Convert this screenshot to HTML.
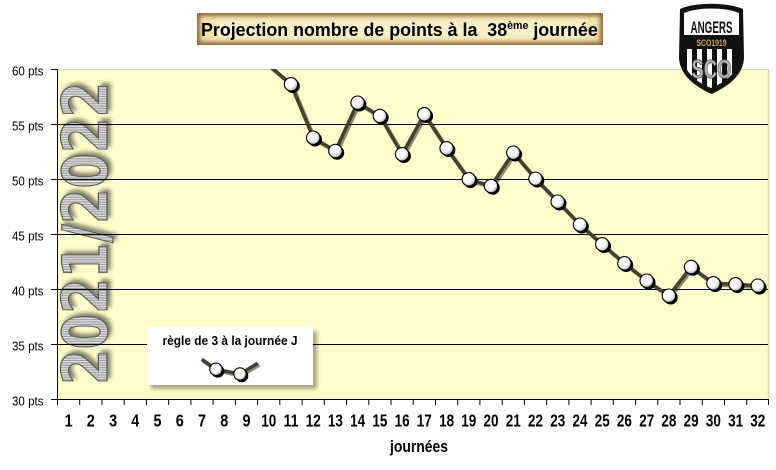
<!DOCTYPE html>
<html><head><meta charset="utf-8"><style>
html,body{margin:0;padding:0;background:#fff;}
svg{display:block;}
</style></head><body>
<svg width="776" height="470" viewBox="0 0 776 470" xmlns="http://www.w3.org/2000/svg" font-family="'Liberation Sans', Arial, sans-serif">
<defs>
  <clipPath id="plotclip"><rect x="57.5" y="69" width="711.5" height="330"/></clipPath>
  <radialGradient id="ball" cx="0.42" cy="0.4" r="0.6">
    <stop offset="0" stop-color="#ffffff"/>
    <stop offset="0.55" stop-color="#ffffff"/>
    <stop offset="1" stop-color="#b8b8b8"/>
  </radialGradient>
  <filter id="blur2" x="-20%" y="-50%" width="140%" height="200%"><feGaussianBlur stdDeviation="2.2"/></filter>
  <filter id="blur3" x="-20%" y="-30%" width="140%" height="160%"><feGaussianBlur stdDeviation="2.5"/></filter>
  <filter id="tshadow" x="-30%" y="-10%" width="160%" height="120%">
    <feGaussianBlur in="SourceAlpha" stdDeviation="2"/>
    <feOffset dx="3" dy="3" result="o"/>
    <feComponentTransfer><feFuncA type="linear" slope="0.5"/></feComponentTransfer>
    <feMerge><feMergeNode/><feMergeNode in="SourceGraphic"/></feMerge>
  </filter>
  <pattern id="stripes" patternUnits="userSpaceOnUse" width="2.4" height="3">
    <rect x="0" y="0" width="2.4" height="3" fill="#dedede"/>
    <rect x="0" y="0" width="1.1" height="3" fill="#9c9c9c"/>
  </pattern>
  <clipPath id="shieldlow"><path d="M684,49 L739,49 L739,58 C738,72 726,82 711,88 C696,82 684,72 684,58 Z"/></clipPath>
</defs>

<!-- Title box -->
<rect x="197" y="13" width="406" height="32" fill="#8a683a"/>
<rect x="200" y="16" width="400" height="26" fill="#f2e1ab" filter="url(#blur2)"/>
<rect x="215" y="20" width="370" height="18" fill="#f8eec8" filter="url(#blur3)"/>
<text x="201" y="36" font-size="18.5" font-weight="bold" fill="#000" transform="translate(201,0) scale(0.965,1) translate(-201,0)">Projection nombre de points à la&#160; 38<tspan dy="-7" font-size="11">ème</tspan><tspan dy="7">&#160;journée</tspan></text>

<!-- Plot area -->
<rect x="57.5" y="69" width="711.5" height="330" fill="#fefdcb"/>
<line x1="57.5" y1="69.5" x2="769" y2="69.5" stroke="#ddd3a8" stroke-width="1"/>
<line x1="768.5" y1="69" x2="768.5" y2="399" stroke="#ddd3a8" stroke-width="1.5"/>

<!-- Vertical season text -->
<g transform="translate(107,385) rotate(-90)" filter="url(#tshadow)">
  <text x="0" y="0" font-family="'DejaVu Sans', sans-serif" font-size="62" font-weight="bold" fill="url(#stripes)" stroke="#5a5a5a" stroke-width="1.2" textLength="303" lengthAdjust="spacingAndGlyphs">2021/2022</text>
</g>

<!-- Gridlines -->
<g stroke="#000" stroke-width="1">
  <line x1="57.5" y1="124.5" x2="768" y2="124.5"/>
  <line x1="57.5" y1="179.5" x2="768" y2="179.5"/>
  <line x1="57.5" y1="234.5" x2="768" y2="234.5"/>
  <line x1="57.5" y1="289.5" x2="768" y2="289.5"/>
  <line x1="57.5" y1="344.5" x2="768" y2="344.5"/>
  <line x1="57.5" y1="69" x2="57.5" y2="400"/>
  <line x1="57" y1="399.5" x2="769" y2="399.5"/>
  <line x1="51" y1="69.5" x2="57.5" y2="69.5"/>
  <line x1="51" y1="124.5" x2="57.5" y2="124.5"/>
  <line x1="51" y1="179.5" x2="57.5" y2="179.5"/>
  <line x1="51" y1="234.5" x2="57.5" y2="234.5"/>
  <line x1="51" y1="289.5" x2="57.5" y2="289.5"/>
  <line x1="51" y1="344.5" x2="57.5" y2="344.5"/>
  <line x1="51" y1="399.5" x2="57.5" y2="399.5"/>
  <line x1="57.5" y1="399" x2="57.5" y2="405"/>
  <line x1="79.7" y1="399" x2="79.7" y2="405"/>
  <line x1="102.0" y1="399" x2="102.0" y2="405"/>
  <line x1="124.2" y1="399" x2="124.2" y2="405"/>
  <line x1="146.4" y1="399" x2="146.4" y2="405"/>
  <line x1="168.7" y1="399" x2="168.7" y2="405"/>
  <line x1="190.9" y1="399" x2="190.9" y2="405"/>
  <line x1="213.1" y1="399" x2="213.1" y2="405"/>
  <line x1="235.4" y1="399" x2="235.4" y2="405"/>
  <line x1="257.6" y1="399" x2="257.6" y2="405"/>
  <line x1="279.8" y1="399" x2="279.8" y2="405"/>
  <line x1="302.1" y1="399" x2="302.1" y2="405"/>
  <line x1="324.3" y1="399" x2="324.3" y2="405"/>
  <line x1="346.5" y1="399" x2="346.5" y2="405"/>
  <line x1="368.8" y1="399" x2="368.8" y2="405"/>
  <line x1="391.0" y1="399" x2="391.0" y2="405"/>
  <line x1="413.2" y1="399" x2="413.2" y2="405"/>
  <line x1="435.5" y1="399" x2="435.5" y2="405"/>
  <line x1="457.7" y1="399" x2="457.7" y2="405"/>
  <line x1="479.9" y1="399" x2="479.9" y2="405"/>
  <line x1="502.2" y1="399" x2="502.2" y2="405"/>
  <line x1="524.4" y1="399" x2="524.4" y2="405"/>
  <line x1="546.6" y1="399" x2="546.6" y2="405"/>
  <line x1="568.9" y1="399" x2="568.9" y2="405"/>
  <line x1="591.1" y1="399" x2="591.1" y2="405"/>
  <line x1="613.3" y1="399" x2="613.3" y2="405"/>
  <line x1="635.6" y1="399" x2="635.6" y2="405"/>
  <line x1="657.8" y1="399" x2="657.8" y2="405"/>
  <line x1="680.0" y1="399" x2="680.0" y2="405"/>
  <line x1="702.3" y1="399" x2="702.3" y2="405"/>
  <line x1="724.5" y1="399" x2="724.5" y2="405"/>
  <line x1="746.7" y1="399" x2="746.7" y2="405"/>
  <line x1="768.5" y1="399" x2="768.5" y2="405"/>
</g>

<!-- Y labels -->
<g font-size="13" fill="#000" text-anchor="end">
  <text x="43.5" y="75.5" textLength="31.5" lengthAdjust="spacingAndGlyphs">60 pts</text>
  <text x="43.5" y="130.5" textLength="31.5" lengthAdjust="spacingAndGlyphs">55 pts</text>
  <text x="43.5" y="185.5" textLength="31.5" lengthAdjust="spacingAndGlyphs">50 pts</text>
  <text x="43.5" y="240.5" textLength="31.5" lengthAdjust="spacingAndGlyphs">45 pts</text>
  <text x="43.5" y="295.5" textLength="31.5" lengthAdjust="spacingAndGlyphs">40 pts</text>
  <text x="43.5" y="350.5" textLength="31.5" lengthAdjust="spacingAndGlyphs">35 pts</text>
  <text x="43.5" y="405.5" textLength="31.5" lengthAdjust="spacingAndGlyphs">30 pts</text>
</g>

<!-- X labels -->
<g font-size="17.5" font-weight="bold" fill="#000" text-anchor="middle">
  <text x="68.6" y="426.5" textLength="8" lengthAdjust="spacingAndGlyphs">1</text>
  <text x="90.8" y="426.5" textLength="8" lengthAdjust="spacingAndGlyphs">2</text>
  <text x="113.1" y="426.5" textLength="8" lengthAdjust="spacingAndGlyphs">3</text>
  <text x="135.3" y="426.5" textLength="8" lengthAdjust="spacingAndGlyphs">4</text>
  <text x="157.5" y="426.5" textLength="8" lengthAdjust="spacingAndGlyphs">5</text>
  <text x="179.8" y="426.5" textLength="8" lengthAdjust="spacingAndGlyphs">6</text>
  <text x="202.0" y="426.5" textLength="8" lengthAdjust="spacingAndGlyphs">7</text>
  <text x="224.2" y="426.5" textLength="8" lengthAdjust="spacingAndGlyphs">8</text>
  <text x="246.5" y="426.5" textLength="8" lengthAdjust="spacingAndGlyphs">9</text>
  <text x="268.7" y="426.5" textLength="15" lengthAdjust="spacingAndGlyphs">10</text>
  <text x="291.0" y="426.5" textLength="15" lengthAdjust="spacingAndGlyphs">11</text>
  <text x="313.2" y="426.5" textLength="15" lengthAdjust="spacingAndGlyphs">12</text>
  <text x="335.4" y="426.5" textLength="15" lengthAdjust="spacingAndGlyphs">13</text>
  <text x="357.6" y="426.5" textLength="15" lengthAdjust="spacingAndGlyphs">14</text>
  <text x="379.9" y="426.5" textLength="15" lengthAdjust="spacingAndGlyphs">15</text>
  <text x="402.1" y="426.5" textLength="15" lengthAdjust="spacingAndGlyphs">16</text>
  <text x="424.3" y="426.5" textLength="15" lengthAdjust="spacingAndGlyphs">17</text>
  <text x="446.6" y="426.5" textLength="15" lengthAdjust="spacingAndGlyphs">18</text>
  <text x="468.8" y="426.5" textLength="15" lengthAdjust="spacingAndGlyphs">19</text>
  <text x="491.0" y="426.5" textLength="15" lengthAdjust="spacingAndGlyphs">20</text>
  <text x="513.3" y="426.5" textLength="15" lengthAdjust="spacingAndGlyphs">21</text>
  <text x="535.5" y="426.5" textLength="15" lengthAdjust="spacingAndGlyphs">22</text>
  <text x="557.7" y="426.5" textLength="15" lengthAdjust="spacingAndGlyphs">23</text>
  <text x="580.0" y="426.5" textLength="15" lengthAdjust="spacingAndGlyphs">24</text>
  <text x="602.2" y="426.5" textLength="15" lengthAdjust="spacingAndGlyphs">25</text>
  <text x="624.4" y="426.5" textLength="15" lengthAdjust="spacingAndGlyphs">26</text>
  <text x="646.7" y="426.5" textLength="15" lengthAdjust="spacingAndGlyphs">27</text>
  <text x="668.9" y="426.5" textLength="15" lengthAdjust="spacingAndGlyphs">28</text>
  <text x="691.1" y="426.5" textLength="15" lengthAdjust="spacingAndGlyphs">29</text>
  <text x="713.4" y="426.5" textLength="15" lengthAdjust="spacingAndGlyphs">30</text>
  <text x="735.6" y="426.5" textLength="15" lengthAdjust="spacingAndGlyphs">31</text>
  <text x="757.8" y="426.5" textLength="15" lengthAdjust="spacingAndGlyphs">32</text>
</g>
<text x="419" y="452" font-size="17" font-weight="bold" text-anchor="middle" textLength="58" lengthAdjust="spacingAndGlyphs">journées</text>

<!-- Series -->
<g clip-path="url(#plotclip)">
  <polyline fill="none" stroke="#000" stroke-opacity="0.45" stroke-width="4" stroke-linejoin="round" transform="translate(1.5,1.5)"
    points="268.7,65.3 291.0,84.3 313.2,137.7 335.4,151 357.6,102.7 379.9,116 402.1,154.3 424.3,114.3 446.6,148.3 468.8,179.3 491.0,186 513.3,152.7 535.5,178.7 557.7,201.7 580.0,224.7 602.2,244.3 624.4,263.3 646.7,280.7 668.9,295.7 691.1,267 713.4,283.3 735.6,284.3 757.8,285.7"/>
  <polyline fill="none" stroke="#43422f" stroke-width="3.5" stroke-linejoin="round"
    points="268.7,65.3 291.0,84.3 313.2,137.7 335.4,151 357.6,102.7 379.9,116 402.1,154.3 424.3,114.3 446.6,148.3 468.8,179.3 491.0,186 513.3,152.7 535.5,178.7 557.7,201.7 580.0,224.7 602.2,244.3 624.4,263.3 646.7,280.7 668.9,295.7 691.1,267 713.4,283.3 735.6,284.3 757.8,285.7"/>
</g>
<g>
  <g fill="#000">
    <circle cx="292.8" cy="86.1" r="7"/>
    <circle cx="315.0" cy="139.5" r="7"/>
    <circle cx="337.2" cy="152.8" r="7"/>
    <circle cx="359.4" cy="104.5" r="7"/>
    <circle cx="381.7" cy="117.8" r="7"/>
    <circle cx="403.9" cy="156.1" r="7"/>
    <circle cx="426.1" cy="116.1" r="7"/>
    <circle cx="448.4" cy="150.1" r="7"/>
    <circle cx="470.6" cy="181.1" r="7"/>
    <circle cx="492.8" cy="187.8" r="7"/>
    <circle cx="515.1" cy="154.5" r="7"/>
    <circle cx="537.3" cy="180.5" r="7"/>
    <circle cx="559.5" cy="203.5" r="7"/>
    <circle cx="581.8" cy="226.5" r="7"/>
    <circle cx="604.0" cy="246.1" r="7"/>
    <circle cx="626.2" cy="265.1" r="7"/>
    <circle cx="648.5" cy="282.5" r="7"/>
    <circle cx="670.7" cy="297.5" r="7"/>
    <circle cx="692.9" cy="268.8" r="7"/>
    <circle cx="715.2" cy="285.1" r="7"/>
    <circle cx="737.4" cy="286.1" r="7"/>
    <circle cx="759.6" cy="287.5" r="7"/>
  </g>
  <g fill="url(#ball)" stroke="#000" stroke-width="1.1">
    <circle cx="291.0" cy="84.3" r="6.7"/>
    <circle cx="313.2" cy="137.7" r="6.7"/>
    <circle cx="335.4" cy="151" r="6.7"/>
    <circle cx="357.6" cy="102.7" r="6.7"/>
    <circle cx="379.9" cy="116" r="6.7"/>
    <circle cx="402.1" cy="154.3" r="6.7"/>
    <circle cx="424.3" cy="114.3" r="6.7"/>
    <circle cx="446.6" cy="148.3" r="6.7"/>
    <circle cx="468.8" cy="179.3" r="6.7"/>
    <circle cx="491.0" cy="186" r="6.7"/>
    <circle cx="513.3" cy="152.7" r="6.7"/>
    <circle cx="535.5" cy="178.7" r="6.7"/>
    <circle cx="557.7" cy="201.7" r="6.7"/>
    <circle cx="580.0" cy="224.7" r="6.7"/>
    <circle cx="602.2" cy="244.3" r="6.7"/>
    <circle cx="624.4" cy="263.3" r="6.7"/>
    <circle cx="646.7" cy="280.7" r="6.7"/>
    <circle cx="668.9" cy="295.7" r="6.7"/>
    <circle cx="691.1" cy="267" r="6.7"/>
    <circle cx="713.4" cy="283.3" r="6.7"/>
    <circle cx="735.6" cy="284.3" r="6.7"/>
    <circle cx="757.8" cy="285.7" r="6.7"/>
  </g>
</g>

<!-- Legend -->
<rect x="151" y="331" width="166" height="58" fill="#000" opacity="0.35" filter="url(#blur2)"/>
<rect x="147" y="327" width="166" height="58" fill="#ffffff"/>
<text x="230" y="345" font-size="13" font-weight="bold" text-anchor="middle" textLength="135" lengthAdjust="spacingAndGlyphs">règle de 3 à la journée J</text>
<polyline fill="none" stroke="#000" stroke-opacity="0.45" stroke-width="4" transform="translate(1.5,1.5)" points="201.7,359.3 216,369.3 240,374 257.7,363.3"/>
<polyline fill="none" stroke="#43422f" stroke-width="3.5" points="201.7,359.3 216,369.3 240,374 257.7,363.3"/>
<circle cx="217.8" cy="371.1" r="6.5" fill="#000"/>
<circle cx="241.8" cy="375.8" r="6.5" fill="#000"/>
<circle cx="216" cy="369.3" r="6.2" fill="url(#ball)" stroke="#000" stroke-width="1.1"/>
<circle cx="240" cy="374" r="6.2" fill="url(#ball)" stroke="#000" stroke-width="1.1"/>

<!-- Logo -->
<g>
  <path d="M680,9 C695,2 727,2 743,9 L744,58 C743,75 729,86 711.5,94 C694,86 680,75 679,58 Z" fill="#111"/>
  <path d="M684,13 C698,7 725,7 739,13 L739,35 L684,35 Z" fill="#ffffff"/>
  <text x="711.5" y="33" font-size="17" font-weight="bold" text-anchor="middle" fill="#111" textLength="42" lengthAdjust="spacingAndGlyphs">ANGERS</text>
  <text x="711.5" y="46" font-size="9" font-weight="bold" text-anchor="middle" fill="#d4ac4a" textLength="30" lengthAdjust="spacingAndGlyphs">SCO1919</text>
  <g clip-path="url(#shieldlow)">
    <rect x="684" y="49" width="56" height="40" fill="#111"/>
    <rect x="687" y="49" width="5" height="40" fill="#fff"/>
    <rect x="697" y="49" width="5" height="40" fill="#fff"/>
    <rect x="707" y="49" width="5" height="40" fill="#fff"/>
    <rect x="717" y="49" width="5" height="40" fill="#fff"/>
    <rect x="727" y="49" width="5" height="40" fill="#fff"/>
  </g>
  <text x="711.5" y="78" font-size="26" font-weight="bold" text-anchor="middle" fill="#b5b5b5" stroke="#555" stroke-width="0.8" textLength="40" lengthAdjust="spacingAndGlyphs">SCO</text>
</g>
</svg>
</body></html>
